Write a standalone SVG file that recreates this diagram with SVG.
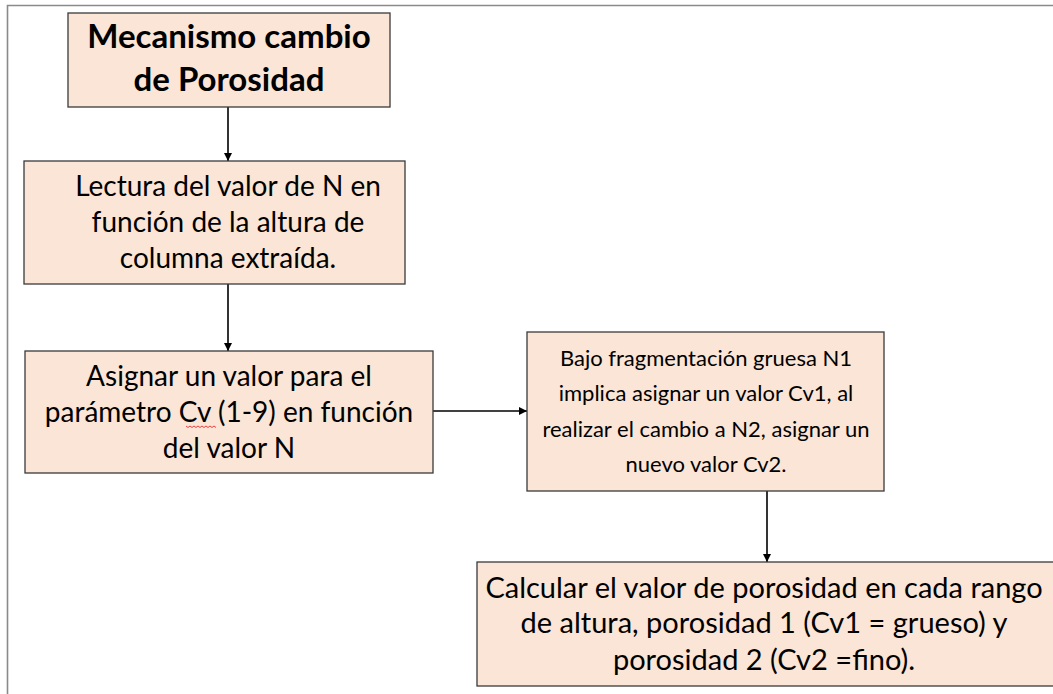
<svg xmlns="http://www.w3.org/2000/svg" width="1053" height="694" viewBox="0 0 1053 694">
  <defs>
    <marker id="ah" viewBox="0 0 10 10" refX="10" refY="5" markerWidth="8" markerHeight="8" markerUnits="userSpaceOnUse" orient="auto">
      <path d="M0,0 L10,5 L0,10 Z" fill="#000"/>
    </marker>
    <style>
      .box { fill: #FBE5D6; stroke: #3a3a3a; stroke-width: 1.3; }
      .t { font-family: Lato, "Liberation Sans", sans-serif; font-size: 28px; fill: #000; text-anchor: middle; }
      .ts { font-size: 22px; }
      .tl { font-size: 29px; }
      .tb { font-family: Lato, "Liberation Sans", sans-serif; font-size: 33px; font-weight: bold; fill: #000; text-anchor: middle; }
      .frame { stroke: #8a8a8a; stroke-width: 1.6; fill: none; }
      .conn { stroke: #000; stroke-width: 1.6; fill: none; marker-end: url(#ah); }
      .spell { stroke: #e03030; stroke-width: 0.9; fill: none; }
    </style>
  </defs>
  <rect width="1053" height="694" fill="#fff"/>
  <path class="frame" d="M7.5,694 L7.5,5.5 L1053,5.5"/>

  <g id="connectors">
    <line class="conn" x1="228" y1="107" x2="228" y2="161"/>
    <line class="conn" x1="228" y1="284" x2="228" y2="351"/>
    <line class="conn" x1="433" y1="411" x2="527" y2="411"/>
    <line class="conn" x1="767" y1="491" x2="767" y2="562"/>
  </g>

  <g id="node-mecanismo">
    <rect class="box" x="68" y="13" width="322" height="94"/>
    <text class="tb" x="229" y="48">Mecanismo cambio</text>
    <text class="tb" x="229" y="91">de Porosidad</text>
  </g>

  <g id="node-lectura">
    <rect class="box" x="24" y="161" width="381" height="123"/>
    <text class="t" x="228" y="196">Lectura del valor de N en</text>
    <text class="t" x="228" y="232">función de la altura de</text>
    <text class="t" x="228" y="268">columna extraída.</text>
  </g>

  <g id="node-asignar">
    <rect class="box" x="25" y="351" width="408" height="122"/>
    <text class="t" x="229" y="386">Asignar un valor para el</text>
    <text class="t" x="229" y="422">parámetro Cv (1-9) en función</text>
    <text class="t" x="229" y="458">del valor N</text>
    <path class="spell" d="M186,426 l2,1.5 l2,-1.5 l2,1.5 l2,-1.5 l2,1.5 l2,-1.5 l2,1.5 l2,-1.5 l2,1.5 l2,-1.5 l2,1.5 l2,-1.5 l2,1.5 l2,-1.5 l2,1.5"/>
  </g>

  <g id="node-bajo">
    <rect class="box" x="527" y="332" width="357" height="159"/>
    <text class="t ts" x="706" y="366">Bajo fragmentación gruesa N1</text>
    <text class="t ts" x="706" y="401">implica asignar un valor Cv1, al</text>
    <text class="t ts" x="706" y="437">realizar el cambio a N2, asignar un</text>
    <text class="t ts" x="706" y="472">nuevo valor Cv2.</text>
  </g>

  <g id="node-calcular">
    <rect class="box" x="477" y="562" width="580" height="124"/>
    <text class="t tl" x="764" y="598">Calcular el valor de porosidad en cada rango</text>
    <text class="t tl" x="764" y="633">de altura, porosidad 1 (Cv1 = grueso) y</text>
    <text class="t tl" x="764" y="670">porosidad 2 (Cv2 =fino).</text>
  </g>
</svg>
